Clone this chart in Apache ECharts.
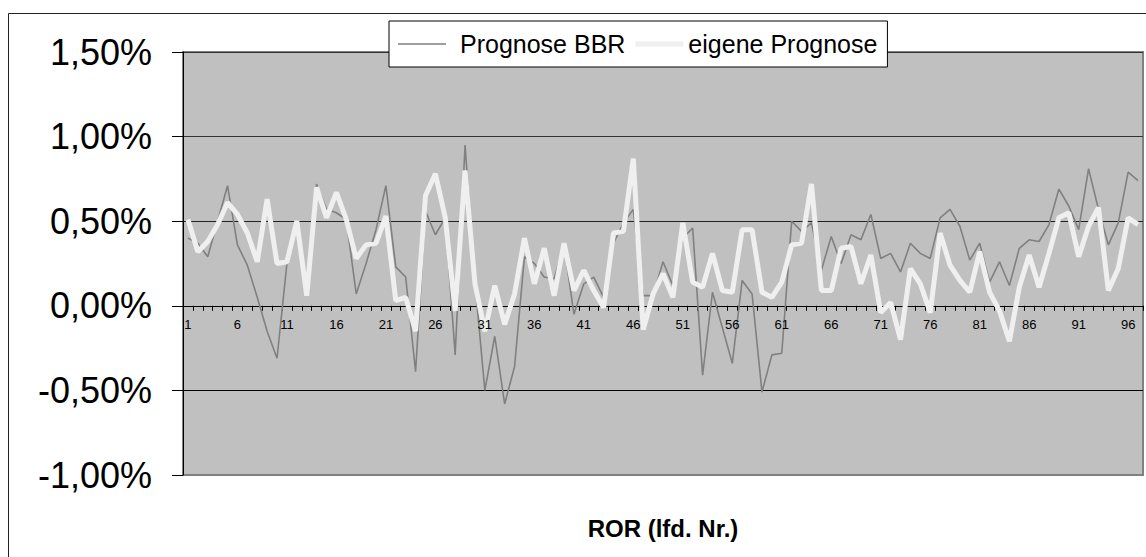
<!DOCTYPE html>
<html>
<head>
<meta charset="utf-8">
<script src="https://cdn.jsdelivr.net/npm/echarts@6/dist/echarts.min.js"></script>
<style>
html,body{margin:0;padding:0;background:#fff;overflow:hidden;}
#chart{width:1146px;height:557px;}
</style>
</head>
<body>
<div id="chart"></div>
<script>
const categories = [];
for (let i = 1; i <= 97; i++) categories.push(String(i));

const prognoseBBR = [
  0.40, 0.37, 0.29, 0.50, 0.71, 0.36, 0.24, 0.05, -0.15, -0.31,
  0.25, 0.49, 0.07, 0.72, 0.57, 0.55, 0.51, 0.07, 0.25, 0.45,
  0.71, 0.23, 0.17, -0.39, 0.56, 0.42, 0.52, -0.29, 0.95, 0.14,
  -0.50, -0.18, -0.58, -0.36, 0.29, 0.25, 0.17, 0.16, 0.36, -0.05,
  0.13, 0.17, 0.05, 0.37, 0.49, 0.57, 0.06, 0.06, 0.26, 0.12,
  0.40, 0.46, -0.41, 0.08, -0.13, -0.34, 0.15, 0.07, -0.51, -0.29,
  -0.28, 0.50, 0.44, 0.49, 0.21, 0.41, 0.25, 0.42, 0.39, 0.54,
  0.28, 0.31, 0.20, 0.37, 0.31, 0.28, 0.52, 0.57, 0.47, 0.27,
  0.37, 0.14, 0.26, 0.12, 0.34, 0.39, 0.38, 0.48, 0.69, 0.59,
  0.45, 0.81, 0.57, 0.36, 0.49, 0.79, 0.74
];

const eigenePrognose = [
  0.51, 0.32, 0.38, 0.48, 0.61, 0.54, 0.43, 0.26, 0.63, 0.25,
  0.26, 0.50, 0.06, 0.70, 0.52, 0.67, 0.51, 0.28, 0.36, 0.37,
  0.53, 0.03, 0.05, -0.15, 0.65, 0.78, 0.52, -0.03, 0.80, 0.13,
  -0.15, 0.12, -0.11, 0.07, 0.40, 0.13, 0.34, 0.06, 0.37, 0.09,
  0.21, 0.09, -0.01, 0.43, 0.44, 0.87, -0.14, 0.07, 0.19, 0.05,
  0.49, 0.14, 0.11, 0.31, 0.09, 0.08, 0.45, 0.45, 0.08, 0.05,
  0.14, 0.36, 0.37, 0.72, 0.09, 0.09, 0.34, 0.35, 0.13, 0.30,
  -0.04, 0.02, -0.20, 0.22, 0.13, -0.04, 0.43, 0.24, 0.15, 0.08,
  0.32, 0.08, -0.03, -0.21, 0.11, 0.30, 0.11, 0.31, 0.52, 0.55,
  0.29, 0.47, 0.58, 0.09, 0.22, 0.52, 0.48
];

const seriesNames = ['Prognose BBR', 'eigene Prognose'];
const axisTitle = 'ROR (lfd. Nr.)';

const FONT = 'Arial, "Liberation Sans", sans-serif';
const Y_MIN = -1, Y_MAX = 1.5;
const GRID_TOP = 52, GRID_BOTTOM = 82, CHART_H = 557;
const gridH = CHART_H - GRID_TOP - GRID_BOTTOM;
// move the category axis (line, ticks, labels) up to the zero line
const zeroOffset = -gridH * (0 - Y_MIN) / (Y_MAX - Y_MIN);

const chart = echarts.init(document.getElementById('chart'), null, {renderer: 'svg'});

chart.setOption({
  animation: false,
  backgroundColor: '#ffffff',
  graphic: [
    {
      type: 'rect', z: -10, silent: true,
      shape: {x: 8.5, y: 13.5, width: 1200, height: 600},
      style: {fill: 'none', stroke: '#222', lineWidth: 1}
    },
    {
      type: 'text', z: 10, silent: true,
      x: 663, y: 528,
      style: {
        text: axisTitle, fill: '#000', font: 'bold 24px ' + FONT,
        align: 'center', verticalAlign: 'middle'
      }
    }
  ],
  legend: {
    data: [
      {name: seriesNames[0], icon: 'path://M0,0L48,0M0,14L48,14M0,6.2L48,6.2L48,7.8L0,7.8Z'},
      {name: seriesNames[1], icon: 'path://M0,0L48,0M0,14L48,14M0,4.5L48,4.5L48,9.5L0,9.5Z'}
    ],
    left: 389, top: 21,
    orient: 'horizontal',
    backgroundColor: '#ffffff',
    borderColor: '#000',
    borderWidth: 1,
    padding: [9, 10, 9, 9],
    itemGap: 10,
    itemWidth: 48,
    itemHeight: 14,
    itemStyle: {borderWidth: 0},
    formatter: function (name) {
      return name === seriesNames[0] ? '{a|' + name + '}' : '{b|' + name + '}';
    },
    textStyle: {
      color: '#000', fontFamily: FONT, fontSize: 25, lineHeight: 28,
      rich: {
        a: {fontFamily: FONT, fontSize: 25, color: '#000', padding: [0, 0, 0, 9]},
        b: {fontFamily: FONT, fontSize: 25, color: '#000'}
      }
    }
  },
  grid: {
    left: 183, right: 3, top: GRID_TOP, bottom: GRID_BOTTOM,
    show: true,
    backgroundColor: '#c0c0c0',
    borderColor: '#808080',
    borderWidth: 2
  },
  xAxis: [
    {
      type: 'category',
      data: categories,
      boundaryGap: true,
      position: 'bottom',
      offset: zeroOffset,
      z: 0,
      axisLine: {onZero: false, lineStyle: {color: '#000', width: 1}},
      axisTick: {show: true, interval: 0, length: 5, lineStyle: {color: '#000'}},
      axisLabel: {show: false},
      splitLine: {show: false}
    },
    {
      type: 'category',
      data: categories,
      boundaryGap: true,
      position: 'bottom',
      offset: zeroOffset,
      z: 10,
      axisLine: {show: false, onZero: false},
      axisTick: {show: false},
      axisLabel: {
        interval: 4, color: '#000', fontFamily: FONT, fontSize: 13, margin: 12
      },
      splitLine: {show: false}
    }
  ],
  yAxis: {
    type: 'value',
    min: Y_MIN, max: Y_MAX, interval: 0.5,
    axisLine: {show: true, lineStyle: {color: '#000', width: 1}},
    axisTick: {show: true, length: 11, lineStyle: {color: '#000'}},
    axisLabel: {
      color: '#000', fontFamily: FONT, fontSize: 36, margin: 31,
      formatter: function (v) { return v.toFixed(2).replace('.', ',') + '%'; }
    },
    splitLine: {
      show: true,
      lineStyle: {color: ['#808080', '#000', '#000', '#222', '#333', '#333'], width: 1}
    }
  },
  series: [
    {
      name: seriesNames[0],
      type: 'line',
      xAxisIndex: 0,
      data: prognoseBBR,
      symbol: 'none',
      lineStyle: {color: '#808080', width: 1.6},
      itemStyle: {color: '#808080'},
      z: 2
    },
    {
      name: seriesNames[1],
      type: 'line',
      xAxisIndex: 0,
      data: eigenePrognose,
      symbol: 'none',
      lineStyle: {color: '#efefef', width: 5},
      itemStyle: {color: '#efefef'},
      z: 3
    }
  ]
});
</script>
</body>
</html>
